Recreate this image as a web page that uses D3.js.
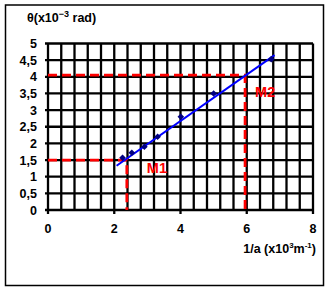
<!DOCTYPE html>
<html>
<head>
<meta charset="utf-8">
<script src="https://cdn.jsdelivr.net/npm/d3@7"></script>
<style>
  body { margin: 0; background: #fff; }
  text { font-family: "Liberation Sans", Arial, sans-serif; font-weight: bold; }
</style>
</head>
<body>
<div id="chart"></div>
<script>
var points = [
  [2.25, 1.57], [2.53, 1.72], [2.91, 1.9], [3.31, 2.2],
  [4.01, 2.8], [5.0, 3.5], [6.74, 4.53]
];
var trend = [[2.07, 1.33], [6.84, 4.65]];
var marks = [
  { 'name': 'M1', 'x': 2.38, 'y': 1.5 },
  { 'name': 'M2', 'x': 5.95, 'y': 4.05 }
];
var xTicks = [0, 2, 4, 6, 8];
var yTicks = [0, 0.5, 1, 1.5, 2, 2.5, 3, 3.5, 4, 4.5, 5];
var xGrid = d3.range(0, 8.01, 0.4);

var width = 330, height = 291;
var plotL = 48, plotR = 313, plotT = 43.5, plotB = 210;

var x = d3.scaleLinear().domain([0, 8]).range([plotL, plotR]);
var y = d3.scaleLinear().domain([0, 5]).range([plotB, plotT]);

var svg = d3.select('#chart').append('svg')
  .attr('width', width)
  .attr('height', height);

svg.append('rect')
  .attr('x', 5.5).attr('y', 5)
  .attr('width', 318).attr('height', 280.5)
  .attr('fill', 'none').attr('stroke', '#000').attr('stroke-width', 1.5);

var grid = svg.append('g');

grid.selectAll('line.v')
  .data(xGrid)
  .enter().append('line')
  .attr('class', 'v')
  .attr('x1', d => x(d)).attr('x2', d => x(d))
  .attr('y1', plotT).attr('y2', plotB)
  .attr('stroke', '#000').attr('stroke-width', 2.3);

grid.selectAll('line.h')
  .data(yTicks)
  .enter().append('line')
  .attr('class', 'h')
  .attr('x1', plotL - 3).attr('x2', plotR)
  .attr('y1', d => y(d)).attr('y2', d => y(d))
  .attr('stroke', '#000').attr('stroke-width', 2.3);

// x ticks below axis
grid.selectAll('line.xt')
  .data(xTicks)
  .enter().append('line')
  .attr('class', 'xt')
  .attr('x1', d => x(d)).attr('x2', d => x(d))
  .attr('y1', plotB).attr('y2', plotB + 4)
  .attr('stroke', '#000').attr('stroke-width', 2.3);

svg.selectAll('text.xl')
  .data(xTicks)
  .enter().append('text')
  .attr('class', 'xl')
  .attr('x', d => x(d)).attr('y', 233)
  .attr('text-anchor', 'middle')
  .attr('font-size', 12.5)
  .text(d => d);

svg.selectAll('text.yl')
  .data(yTicks)
  .enter().append('text')
  .attr('class', 'yl')
  .attr('x', 37).attr('y', d => y(d) + 4.5)
  .attr('text-anchor', 'end')
  .attr('font-size', 12.5)
  .text(d => String(d).replace('.', ','));

// title
var title = svg.append('text')
  .attr('x', 27).attr('y', 22)
  .attr('font-size', 12.5);
title.append('tspan').text('θ(x10');
title.append('tspan').attr('font-size', 9).attr('dy', -5).text('−3');
title.append('tspan').attr('dy', 5).text(' rad)');

var xtitle = svg.append('text')
  .attr('x', 316).attr('y', 253)
  .attr('text-anchor', 'end')
  .attr('font-size', 12.5);
xtitle.append('tspan').text('1/a (x10');
xtitle.append('tspan').attr('font-size', 8).attr('dy', -5).text('3');
xtitle.append('tspan').attr('dy', 5).text('m');
xtitle.append('tspan').attr('font-size', 8).attr('dy', -5).text('-1');
xtitle.append('tspan').attr('dy', 5).text(')');

// red dashed construction lines
var red = svg.append('g')
  .attr('stroke', '#ff0000').attr('stroke-width', 2.8)
  .attr('stroke-dasharray', '9,5').attr('fill', 'none');

red.selectAll('path')
  .data(marks)
  .enter().append('path')
  .attr('d', d => 'M' + x(0) + ',' + y(d.y) + 'H' + x(d.x) + 'V' + y(0));

svg.selectAll('text.mk')
  .data(marks)
  .enter().append('text')
  .attr('class', 'mk')
  .attr('x', (d, i) => x(d.x) + (i === 0 ? 20 : 10))
  .attr('y', (d, i) => y(d.y) + (i === 0 ? 12.5 : 22))
  .attr('fill', '#ff0000')
  .attr('font-size', 14.5)
  .text(d => d.name);

// trendline
svg.append('path')
  .datum(trend)
  .attr('d', d3.line().x(d => x(d[0])).y(d => y(d[1])))
  .attr('stroke', '#0000ff').attr('stroke-width', 2).attr('fill', 'none');

svg.selectAll('path.pt')
  .data(points)
  .enter().append('path')
  .attr('class', 'pt')
  .attr('d', d3.symbol(d3.symbolDiamond2, 28))
  .attr('transform', d => 'translate(' + x(d[0]) + ',' + y(d[1]) + ')')
  .attr('fill', '#000080');
</script>
</body>
</html>
